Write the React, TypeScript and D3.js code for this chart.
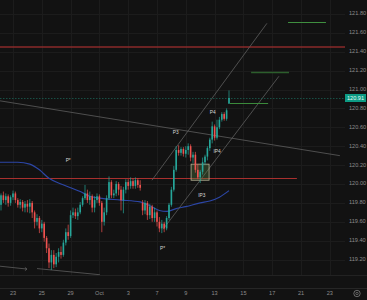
import React from 'react';
import * as d3 from 'd3';

const W = 367;
const H = 300;

// candle k = index + 1 (6 candles per trading day)
const opens = [
  119.78,119.88,119.83,119.87,119.80,119.86,119.90,119.83,119.78,119.81,
  119.75,119.79,119.76,119.80,119.70,119.60,119.64,119.53,119.58,119.43,
  119.32,119.17,119.25,119.15,119.23,119.28,119.25,119.38,119.49,119.45,
  119.67,119.70,119.66,119.70,119.78,119.85,119.90,119.83,119.87,119.75,
  119.83,119.87,119.80,119.60,119.70,119.85,120.02,119.88,119.90,120.00,
  119.94,119.83,119.94,120.02,119.98,120.03,119.98,120.04,119.99,119.80,
  119.72,119.80,119.67,119.76,119.64,119.70,119.60,119.53,119.58,119.53,
  119.64,119.78,119.94,120.15,120.36,120.33,120.37,120.32,120.36,120.40,
  120.28,120.31,120.15,120.07,120.13,120.23,120.29,120.38,120.47,120.61,
  120.49,120.60,120.68,120.74,120.69,120.85];
const highs = [
  119.90,119.92,119.90,119.89,119.88,119.93,119.92,119.85,119.84,119.83,
  119.82,119.83,119.84,119.82,119.72,119.68,119.66,119.62,119.60,119.45,
  119.37,119.30,119.30,119.27,119.32,119.34,119.41,119.53,119.57,119.72,
  119.75,119.74,119.75,119.81,119.87,119.99,119.94,119.92,119.89,119.87,
  119.90,119.89,119.82,119.75,119.88,120.08,120.04,119.94,120.03,120.02,
  119.98,119.97,120.05,120.05,120.07,120.06,120.07,120.06,120.04,119.83,
  119.83,119.82,119.79,119.78,119.75,119.72,119.65,119.62,119.60,119.66,
  119.80,119.97,120.19,120.40,120.41,120.39,120.39,120.40,120.43,120.42,
  120.34,120.34,120.21,120.15,120.28,120.31,120.40,120.49,120.66,120.63,
  120.68,120.71,120.76,120.76,120.80,120.99];
const lows = [
  119.72,119.80,119.78,119.76,119.77,119.83,119.80,119.75,119.74,119.71,
  119.70,119.70,119.69,119.64,119.53,119.56,119.48,119.49,119.39,119.27,
  119.11,119.09,119.11,119.12,119.17,119.21,119.23,119.35,119.41,119.43,
  119.64,119.63,119.62,119.68,119.76,119.83,119.80,119.78,119.70,119.70,
  119.80,119.77,119.49,119.56,119.67,119.83,119.85,119.85,119.87,119.88,
  119.72,119.69,119.90,119.94,119.95,119.95,119.95,119.96,119.93,119.67,
  119.68,119.62,119.63,119.60,119.60,119.55,119.49,119.48,119.49,119.51,
  119.62,119.76,119.92,120.13,120.30,120.30,120.29,120.28,120.31,120.24,
  120.22,120.12,120.05,120.01,120.10,120.20,120.25,120.35,120.43,120.46,
  120.47,120.58,120.66,120.67,120.67,120.85];
const closes = [
  119.88,119.83,119.87,119.80,119.86,119.90,119.83,119.78,119.81,119.75,
  119.79,119.76,119.80,119.70,119.60,119.64,119.53,119.58,119.43,119.32,
  119.17,119.25,119.15,119.23,119.28,119.25,119.38,119.49,119.45,119.67,
  119.70,119.66,119.70,119.78,119.85,119.90,119.83,119.87,119.75,119.83,
  119.87,119.80,119.60,119.70,119.85,120.02,119.88,119.90,120.00,119.94,
  119.83,119.94,120.02,119.98,120.03,119.98,120.04,119.99,119.96,119.72,
  119.80,119.67,119.76,119.64,119.70,119.60,119.53,119.58,119.53,119.64,
  119.78,119.94,120.15,120.36,120.33,120.37,120.32,120.36,120.40,120.28,
  120.31,120.15,120.07,120.13,120.23,120.29,120.38,120.47,120.61,120.49,
  120.60,120.68,120.74,120.69,120.78,120.91];

const tickDays = [1, 3, 5, 7, 9, 11, 13, 15, 17, 19, 21, 23];
const tickLabels = ['23', '25', '29', 'Oct', '3', '7', '9', '13', '15', '17', '21', '23'];
const priceTicks = [119.2, 119.4, 119.6, 119.8, 120.0, 120.2, 120.4, 120.6, 120.8, 121.0, 121.2, 121.4, 121.6, 121.8];
const lastPrice = 120.91;

// moving average samples (candle index, price)
const maIdx = [0, 8, 13, 17, 21, 26, 30, 34, 38, 42, 51, 59, 63, 67, 70, 74, 78, 84, 88, 92, 96];
const maVal = [120.23, 120.23, 120.21, 120.15, 120.06, 120.0, 119.96, 119.92, 119.87, 119.85, 119.83, 119.81, 119.77, 119.72, 119.71, 119.74, 119.76, 119.80, 119.82, 119.86, 119.93];

// horizontal levels
const levelPrices = [121.45, 120.06];
const levelEndIdx = [150, 124.3];

// drawn lines (candle index, price)
const lineStartIdx = [0.6, 63.9, 68.5, 0.6, 16];
const lineStartVal = [120.88, 120.04, 119.52, 119.13, 119.105];
const lineEndIdx = [142.2, 111.8, 116.8, 11.8, 42.2];
const lineEndVal = [120.30, 121.70, 121.14, 119.10, 119.04];
const arrowIdx = 11.8;
const arrowVal = 119.10;

// target steps
const targetStartIdx = [96.4, 105.2, 120.6];
const targetEndIdx = [112.3, 121.0, 136.4];
const targetVals = [120.86, 121.19, 121.71];
const targetColors = ['#3b8a3b', '#2c5e2c', '#3f8f3f'];
const targetWidths = [1.2, 1.6, 1];

// box
const boxIdx = [80.2, 87.7];
const boxVal = [120.04, 120.21];

// labels
const labelText = ['P*', 'P3', 'P4', 'IP4', 'IP3', 'P*'];
const labelIdx = [29.0, 73.8, 89.2, 91.0, 84.7, 68.3];
const labelVal = [120.25, 120.54, 120.75, 120.34, 119.88, 119.32];

const PLOT_R = 345;
const PLOT_B = 275;

export default function App() {
  const x = d3.scaleLinear().domain([0, 100]).range([-1.4, 238.6]);
  const y = d3.scaleLinear().domain([120, 121]).range([184, 89.5]);
  const up = '#26a69a';
  const dn = '#ef5350';
  const font = 'Liberation Sans, Arial, sans-serif';
  const px = (v: number) => Math.round(v) + 0.5;

  const maLine = d3.line<number>()
    .x((_, i) => x(maIdx[i]))
    .y((d) => y(d))
    .curve(d3.curveMonotoneX)(maVal) || '';

  const ax = x(arrowIdx);
  const ay = y(arrowVal);

  return (
    <svg width={W} height={H} style={{ position: 'fixed', left: 0, top: 0, background: '#121212' }}>
      <defs>
        <clipPath id="plot">
          <rect x={0} y={0} width={PLOT_R} height={PLOT_B} />
        </clipPath>
      </defs>
      <rect x={0} y={0} width={W} height={H} fill="#121212" />
      {/* grid */}
      <g stroke="#1c1c1c" strokeWidth={1}>
        {tickDays.map((d, i) => (
          <line key={'vg' + i} x1={px(x(d * 6))} x2={px(x(d * 6))} y1={0} y2={PLOT_B} />
        ))}
        {priceTicks.map((p, i) => (
          <line key={'hg' + i} x1={0} x2={PLOT_R} y1={px(y(p))} y2={px(y(p))} />
        ))}
      </g>
      <g clipPath="url(#plot)">
        {/* levels */}
        <line x1={0} x2={x(levelEndIdx[0])} y1={y(levelPrices[0])} y2={y(levelPrices[0])} stroke="#8a2a2a" strokeWidth={1.5} />
        <line x1={0} x2={x(levelEndIdx[1])} y1={px(y(levelPrices[1]))} y2={px(y(levelPrices[1]))} stroke="#a8302e" strokeWidth={1} />
        {/* MA */}
        <path d={maLine} fill="none" stroke="#2c46a6" strokeWidth={1.2} />
        {/* drawn lines */}
        {lineStartIdx.map((s, i) => (
          <line key={'tl' + i} x1={x(s)} y1={y(lineStartVal[i])} x2={x(lineEndIdx[i])} y2={y(lineEndVal[i])} stroke="#5e5e5e" strokeWidth={0.8} />
        ))}
        <path d={`M${ax - 2},${ay - 1.6} L${ax},${ay} L${ax - 2},${ay + 1.6}`} fill="none" stroke="#6a6a6a" strokeWidth={0.7} />
        {/* current price line */}
        <line x1={0} x2={PLOT_R} y1={px(y(lastPrice))} y2={px(y(lastPrice))} stroke="#1a5f53" strokeWidth={0.8} strokeDasharray="1.5,1.5" />
        {/* box */}
        <rect x={x(boxIdx[0])} y={y(boxVal[1])} width={x(boxIdx[1]) - x(boxIdx[0])} height={y(boxVal[0]) - y(boxVal[1])}
          fill="rgba(90,130,70,0.35)" stroke="#b9b497" strokeWidth={0.8} />
        {/* candles */}
        {closes.map((c, i) => {
          const k = i + 1;
          const o = opens[i];
          const col = c >= o ? up : dn;
          const cx = x(k);
          const top = y(Math.max(o, c));
          const bot = y(Math.min(o, c));
          return (
            <g key={'c' + i}>
              <line x1={cx} x2={cx} y1={y(highs[i])} y2={y(lows[i])} stroke={col} strokeWidth={0.7} />
              <rect x={cx - 0.8} y={top} width={1.6} height={Math.max(0.8, bot - top)} fill={col} />
            </g>
          );
        })}
        {/* targets */}
        {targetVals.map((v, i) => (
          <line key={'tg' + i} x1={x(targetStartIdx[i])} x2={x(targetEndIdx[i])} y1={Math.round(y(v)) + 0.5} y2={Math.round(y(v)) + 0.5}
            stroke={targetColors[i]} strokeWidth={targetWidths[i]} />
        ))}
        {/* labels */}
        {labelText.map((t, i) => (
          <text key={'lb' + i} x={x(labelIdx[i])} y={y(labelVal[i])} fill="#d8d8d8" fontSize={4.8} fontFamily={font} textAnchor="middle" dominantBaseline="middle">{t}</text>
        ))}
      </g>
      {/* bottom separators */}
      <line x1={0} x2={W} y1={PLOT_B + 0.5} y2={PLOT_B + 0.5} stroke="#222" strokeWidth={1} />
      <line x1={0} x2={W} y1={288.5} y2={288.5} stroke="#262626" strokeWidth={1} />
      {/* y axis labels */}
      {priceTicks.map((p, i) => (
        <text key={'yl' + i} x={349} y={y(p)} fill="#8c8c8c" fontSize={5.6} fontFamily={font} dominantBaseline="middle">{p.toFixed(2)}</text>
      ))}
      {/* price badge */}
      <rect x={345} y={y(lastPrice) - 4} width={21} height={8} fill="#0d9a83" />
      <text x={355.5} y={y(lastPrice) + 0.3} fill="#e8fff8" fontSize={5.6} fontFamily={font} textAnchor="middle" dominantBaseline="middle">{lastPrice.toFixed(2)}</text>
      {/* x axis labels */}
      {tickDays.map((d, i) => (
        <text key={'xl' + i} x={x(d * 6)} y={293.5} fill="#8c8c8c" fontSize={5.6} fontFamily={font} textAnchor="middle" dominantBaseline="middle">{tickLabels[i]}</text>
      ))}
      {/* settings icon */}
      <circle cx={357} cy={293.5} r={3.2} fill="none" stroke="#8c8c8c" strokeWidth={0.7} />
      <circle cx={357} cy={293.5} r={1.2} fill="none" stroke="#8c8c8c" strokeWidth={0.6} />
    </svg>
  );
}
